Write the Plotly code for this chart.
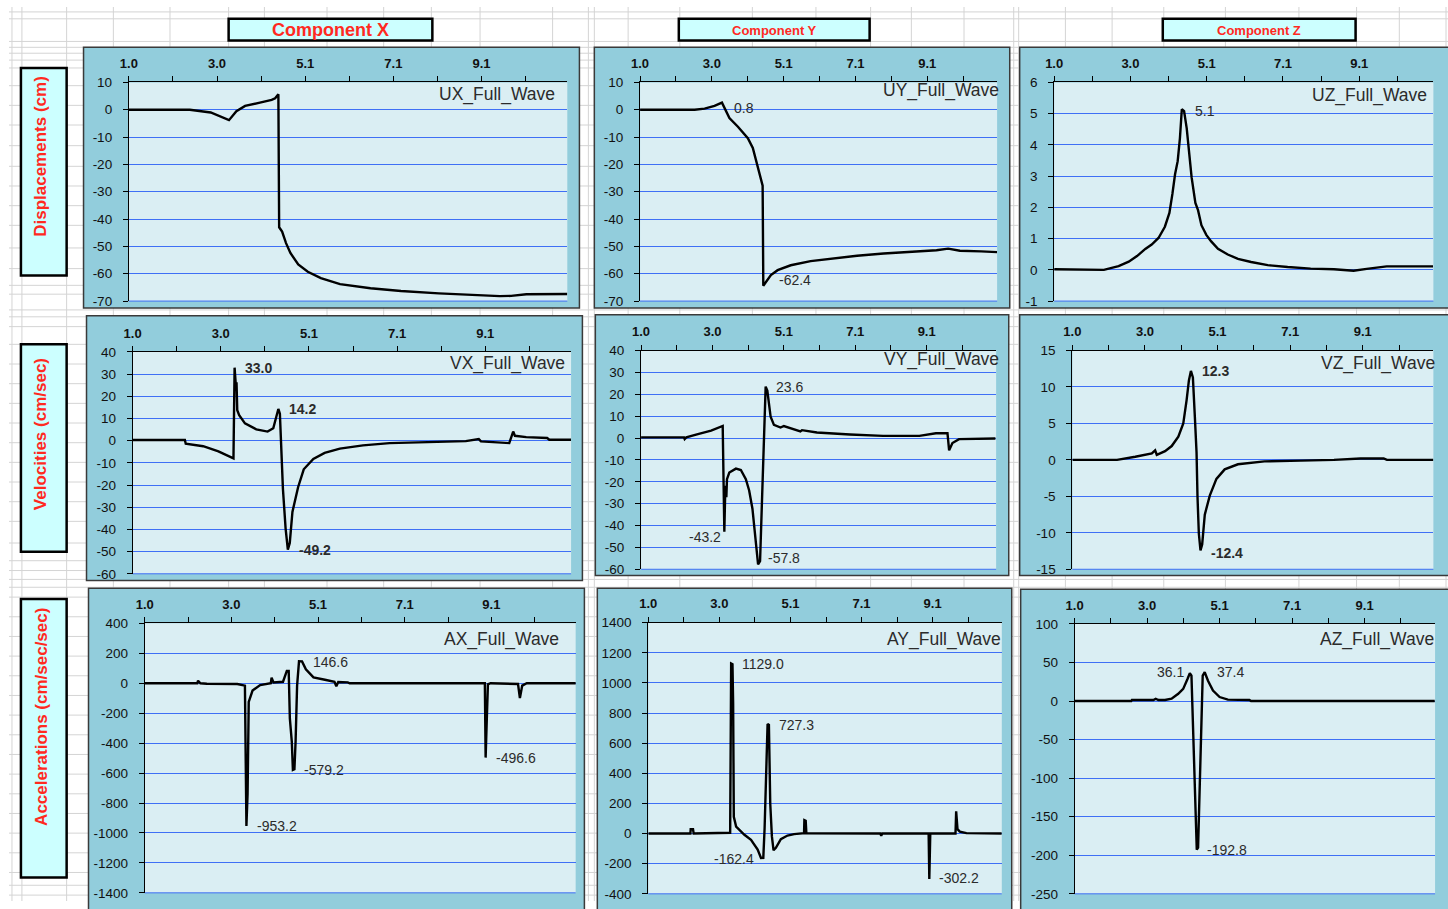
import plotly.graph_objects as go

FIG_W, FIG_H = 1448, 909
FONT = "Liberation Sans, Arial, sans-serif"

# ---------------- data ----------------
x_tick_labels = ["1.0", "", "3.0", "", "5.1", "", "7.1", "", "9.1", ""]
x_tick_step = 1.0125
x_start, x_end = 1.0, 11.07

# Displacements
ux_t = [1.0, 2.40, 2.88, 3.30, 3.47, 3.67, 4.01, 4.28, 4.36, 4.434, 4.452, 4.52, 4.61, 4.71, 4.89, 5.11, 5.41,
        5.85, 6.55, 7.25, 8.12, 8.73, 9.52, 9.78, 10.13, 11.07]
ux_v = [0.0, 0.0, -1.0, -3.8, -0.5, 1.4, 2.6, 3.6, 4.2, 5.7, -43.0, -44.6, -48.8, -52.4, -56.6, -59.3, -61.6,
        -63.8, -65.3, -66.3, -67.2, -67.7, -68.2, -68.1, -67.5, -67.4]

uy_t = [1.0, 2.54, 2.82, 3.10, 3.31, 3.52, 3.76, 4.04, 4.18, 4.32, 4.457, 4.476, 4.55, 4.69, 4.88, 5.25, 5.81,
        6.47, 7.12, 7.87, 8.80, 9.36, 9.69, 10.02, 10.62, 11.07]
uy_v = [0.0, 0.0, 0.4, 1.4, 2.6, -3.0, -6.2, -10.4, -14.0, -21.2, -27.8, -64.4, -63.2, -60.5, -58.7, -56.9, -55.4,
        -54.3, -53.4, -52.6, -51.9, -51.4, -50.8, -51.6, -51.8, -52.1]
uy_lbl = ["0.8", "-62.4"]
uy_lbl_t = [3.94, 5.36]
uy_lbl_v = [0.76, -62.3]

uz_t = [1.0, 2.32, 2.71, 2.98, 3.20, 3.42, 3.59, 3.77, 3.94, 4.06, 4.14, 4.21, 4.28, 4.34, 4.39, 4.45, 4.52,
        4.58, 4.65, 4.75, 4.82, 4.91, 5.04, 5.17, 5.35, 5.61, 5.88, 6.23, 6.67, 7.20, 7.81, 8.43, 8.78, 8.95,
        9.30, 9.83, 11.06]
uz_v = [0.02, 0.0, 0.12, 0.26, 0.44, 0.67, 0.81, 1.02, 1.38, 1.82, 2.43, 3.06, 3.48, 4.22, 5.14, 5.08, 4.53,
        3.90, 2.96, 2.14, 1.91, 1.43, 1.12, 0.91, 0.67, 0.49, 0.35, 0.25, 0.15, 0.09, 0.04, 0.02, -0.01, -0.03,
        0.03, 0.11, 0.11]
uz_lbl = ["5.1"]
uz_lbl_t = [5.0]
uz_lbl_v = [5.08]

# Velocities
vx_t = [1.0, 2.20, 2.22, 2.62, 2.97, 3.18, 3.316, 3.342, 3.368, 3.386, 3.403, 3.447, 3.58, 3.84, 4.10, 4.23,
        4.303, 4.347, 4.382, 4.417, 4.452, 4.513, 4.565, 4.609, 4.670, 4.80, 4.93, 5.15, 5.41, 5.76, 6.29,
        6.90, 7.77, 8.65, 8.95, 9.00, 9.65, 9.74, 9.78, 10.04, 10.52, 10.57, 11.07]
vx_v = [0.3, 0.3, -1.4, -2.5, -4.8, -6.7, -8.0, 32.9, 25.5, 26.3, 13.7, 11.5, 7.8, 5.1, 4.1, 5.6,
        11.5, 14.3, 12.2, -2.5, -21.7, -39.5, -49.1, -46.1, -32.1, -21.0, -12.9, -8.2, -5.5, -3.6, -2.1,
        -1.1, -0.5, -0.2, 0.7, -0.3, -1.1, 4.1, 2.2, 1.6, 1.2, 0.4, 0.4]
vx_lbl = ["33.0", "14.2", "-49.2"]
vx_lbl_t = [3.88, 4.91, 5.18]
vx_lbl_v = [32.9, 14.2, -49.1]

vy_t = [1.0, 2.219, 2.237, 2.284, 2.612, 2.987, 3.316, 3.344, 3.362, 3.391, 3.419, 3.437, 3.503, 3.691, 3.831,
        3.972, 4.066, 4.159, 4.225, 4.272, 4.319, 4.375, 4.412, 4.469, 4.497, 4.534, 4.581, 4.675, 4.769,
        4.956, 5.050, 5.331, 5.519, 5.565, 5.987, 6.925, 7.862, 8.893, 9.362, 9.690, 9.737, 9.831, 10.018,
        11.05]
vy_v = [0.3, 0.3, -0.5, 0.3, 1.8, 3.4, 5.5, -42.8, -42.8, -21.8, -27.0, -18.8, -15.8, -14.0, -14.6,
        -18.8, -24.0, -32.3, -42.8, -51.8, -57.8, -56.3, -36.8, -12.8, 9.7, 23.5, 21.7, 9.7, 6.0,
        4.8, 5.5, 4.0, 3.0, 3.6, 2.5, 1.6, 1.0, 1.0, 2.2, 2.2, -5.6, -2.3, -0.5,
        -0.2]
vy_lbl = ["23.6", "-43.2", "-57.8"]
vy_lbl_t = [5.21, 2.80, 5.05]
vy_lbl_v = [23.5, -45.3, -54.8]

vz_t = [1.0, 2.247, 2.755, 3.217, 3.309, 3.355, 3.586, 3.771, 3.956, 4.094, 4.187, 4.251, 4.307, 4.362, 4.417,
        4.464, 4.491, 4.528, 4.574, 4.621, 4.694, 4.833, 5.018, 5.249, 5.618, 6.357, 7.373, 8.297, 9.036,
        9.682, 9.774, 11.07]
vz_v = [0.0, 0.0, 0.43, 0.88, 1.3, 0.7, 1.2, 1.9, 3.2, 5.0, 8.2, 10.9, 12.2, 11.3, 5.9,
        1.0, -5.1, -10.1, -12.4, -11.6, -7.5, -4.9, -2.6, -1.3, -0.6, -0.2, -0.1, 0.0, 0.2,
        0.2, 0.0, 0.0]
vz_lbl = ["12.3", "-12.4"]
vz_lbl_t = [4.99, 5.31]
vz_lbl_v = [12.2, -12.75]

# Accelerations
ax_t = [1.0, 2.228, 2.246, 2.300, 2.451, 3.163, 3.341, 3.376, 3.403, 3.430, 3.519, 3.697, 3.946, 3.964, 4.008,
        4.231, 4.320, 4.364, 4.391, 4.436, 4.462, 4.498, 4.525, 4.560, 4.605, 4.676, 4.765, 4.943, 5.210,
        5.433, 5.477, 5.522, 5.744, 5.789, 8.948, 8.966, 8.993, 9.020, 9.082, 9.723, 9.767, 9.821, 9.927,
        11.08]
ax_v = [0, 0, 17, 0, -3, -5, -16, -953.2, -739, -125, -49, -12, 0, 38, 5,
        10, 82, 82, -235, -388, -579.2, -574, -388, -16, 146.6, 146, 93, 39, 23,
        10, -20, 8, 6, 0, 0, -496.6, -246, -7, 0, -5, -99, -16, 0,
        0]
ax_lbl = ["146.6", "-579.2", "-953.2", "-496.6"]
ax_lbl_t = [5.34, 5.19, 4.08, 9.68]
ax_lbl_v = [141.6, -576.6, -953.0, -502.0]

ay_t = [1.0, 2.199, 2.208, 2.274, 2.293, 3.332, 3.360, 3.398, 3.417, 3.436, 3.502, 3.596, 3.738, 3.926, 4.021,
        4.115, 4.210, 4.276, 4.313, 4.342, 4.370, 4.398, 4.436, 4.455, 4.474, 4.521, 4.568, 4.634, 4.776,
        4.965, 5.154, 5.437, 5.446, 5.484, 5.503, 7.608, 7.636, 7.665, 8.986, 9.005, 9.033, 9.751, 9.770,
        9.808, 9.874, 10.063, 11.07]
ay_v = [0, 0, 29, 29, 0, 5, 1129.0, 1124, 862, 111, 46, 24, -8, -41, -74,
        -106, -162.4, -161, 35, 307, 612, 727.3, 721, 514, 198, -19, -111, -95, -37,
        -13, -4, 2, 89, 85, 2, 0, -14, 0, 0, -302.2, 0, 0, 148,
        29, 13, 3, 0]
ay_lbl = ["1129.0", "727.3", "-162.4", "-302.2"]
ay_lbl_t = [4.28, 5.22, 3.45, 9.85]
ay_lbl_v = [1123.6, 720.9, -167.0, -295.7]

az_t = [1.0, 2.581, 2.600, 3.201, 3.265, 3.339, 3.524, 3.709, 3.894, 4.033, 4.153, 4.218, 4.264, 4.292, 4.338,
        4.375, 4.412, 4.449, 4.477, 4.514, 4.541, 4.578, 4.634, 4.726, 4.865, 5.050, 5.281, 5.882, 5.928,
        11.06]
az_v = [0, 0, 1.3, 1.3, 3, 1.3, 1.3, 3, 9.4, 15.8, 28.6, 36.1, 33, -11.5, -73.5,
        -145.8, -192.8, -190, -145.8, -99, -35, 33, 37.4, 26.4, 13.7, 5.2, 1.8, 1.3, 0,
        0]
az_lbl = ["36.1", "37.4", "-192.8"]
az_lbl_t = [3.69, 5.35, 5.26]
az_lbl_v = [37.1, 37.1, -193.4]

component_titles = ["Component X", "Component Y", "Component Z"]
row_titles = ["Displacements (cm)", "Velocities (cm/sec)", "Accelerations (cm/sec/sec)"]

# ---------------- layout helpers (page pixel -> paper fraction) ----------------
def px(p):
    return p / FIG_W


def py(p):
    return 1 - p / FIG_H


def clamp(v):
    return min(1.0, max(0.0, v))


RED = "#FF2A1F"
TEAL = "#92CDDC"
PLOT_BG = "#DAEEF3"
GRID_BLUE = "#3F6FF5"
SHEET_GRID = "#D4D4D4"
BOX_FILL = "#CCFFFF"

panels = [
    dict(name="UX_Full_Wave", t=ux_t, v=ux_v, yr=[-70, 10], dt=10, outer=(75, 41, 574, 306),
         plot=(120.6, 76.7, 561.8, 299), leg=(551, 89), lbl=([], [], []), bold=False),
    dict(name="UY_Full_Wave", t=uy_t, v=uy_v, yr=[-70, 10], dt=10, outer=(589, 41, 1007, 306),
         plot=(635, 76.7, 994.3, 299), leg=(998, 85), lbl=(uy_lbl, uy_lbl_t, uy_lbl_v), bold=False),
    dict(name="UZ_Full_Wave", t=uz_t, v=uz_v, yr=[-1, 6], dt=1, outer=(1017, 41, 1460, 306),
         plot=(1051.7, 76.7, 1433.3, 299), leg=(1429, 90), lbl=(uz_lbl, uz_lbl_t, uz_lbl_v), bold=False),
    dict(name="VX_Full_Wave", t=vx_t, v=vx_v, yr=[-60, 40], dt=10, outer=(78, 314, 577, 583),
         plot=(124.4, 350.7, 565.6, 576.3), leg=(561, 362), lbl=(vx_lbl, vx_lbl_t, vx_lbl_v), bold=True),
    dict(name="VY_Full_Wave", t=vy_t, v=vy_v, yr=[-60, 40], dt=10, outer=(590, 313, 1006, 578),
         plot=(636, 349.3, 993.3, 571.7), leg=(998, 358), lbl=(vy_lbl, vy_lbl_t, vy_lbl_v), bold=False),
    dict(name="VZ_Full_Wave", t=vz_t, v=vz_v, yr=[-15, 15], dt=5, outer=(1017, 313, 1460, 578),
         plot=(1070, 349.3, 1433.3, 571.7), leg=(1437, 362), lbl=(vz_lbl, vz_lbl_t, vz_lbl_v), bold=True),
    dict(name="AX_Full_Wave", t=ax_t, v=ax_v, yr=[-1400, 400], dt=200, outer=(80, 591, 579, 925),
         plot=(136.6, 626.7, 570.2, 900.7), leg=(555, 643), lbl=(ax_lbl, ax_lbl_t, ax_lbl_v), bold=False),
    dict(name="AY_Full_Wave", t=ay_t, v=ay_v, yr=[-400, 1400], dt=200, outer=(592, 591, 1009, 925),
         plot=(643.3, 626, 999, 901.7), leg=(1000, 643), lbl=(ay_lbl, ay_lbl_t, ay_lbl_v), bold=False),
    dict(name="AZ_Full_Wave", t=az_t, v=az_v, yr=[-250, 100], dt=50, outer=(1018, 592, 1460, 925),
         plot=(1072.3, 627.3, 1435, 901.7), leg=(1436, 643), lbl=(az_lbl, az_lbl_t, az_lbl_v), bold=False),
]

sheet_cols = [3, 13, 58, 105, 162, 221, 257, 320, 377, 425, 474, 547, 583, 589, 623, 675, 748, 812, 867,
              908, 961, 1011, 1016, 1063, 1110, 1162, 1224, 1298, 1356, 1399, 1446]
sheet_rows = [5, 12, 35, 41, 47, 54, 62, 80, 100, 120, 141, 162, 182, 202, 222, 245, 266, 283, 292, 308,
              315, 325, 343, 363, 383, 403, 423, 443, 463, 483, 503, 523, 545, 563, 573, 582, 590, 600,
              620, 640, 660, 680, 700, 720, 740, 760, 780, 800, 820, 840, 860, 880, 893, 903]

title_boxes = [(221, 12, 426, 34, 18), (674, 12, 866, 34, 13), (1161, 12, 1355, 34, 13)]
row_boxes = [(12, 62, 58, 273, 151.5), (12, 343, 58, 554, 434.5), (12, 602, 58, 885, 722)]

fig = go.Figure()
shapes = []
annotations = []

# Spreadsheet grid
for c in sheet_cols:
    shapes.append(dict(type="line", xref="paper", yref="paper", x0=px(c), x1=px(c), y0=0, y1=1,
                       line=dict(color=SHEET_GRID, width=1), layer="below"))
for r in sheet_rows:
    shapes.append(dict(type="line", xref="paper", yref="paper", x0=0, x1=1, y0=py(r), y1=py(r),
                       line=dict(color=SHEET_GRID, width=1), layer="below"))

# Title boxes
for (x0, y0, x1, y1, fs), txt in zip(title_boxes, component_titles):
    shapes.append(dict(type="rect", xref="paper", yref="paper", x0=px(x0), x1=px(x1), y0=py(y1), y1=py(y0),
                       fillcolor=BOX_FILL, line=dict(color="black", width=2.5), layer="below"))
    annotations.append(dict(text=txt, xref="paper", yref="paper", x=px((x0 + x1) / 2), y=py((y0 + y1) / 2 + 0.5),
                            xanchor="center", yanchor="middle", showarrow=False,
                            font=dict(family=FONT, size=fs, color=RED, weight="bold")))

# Row label boxes
for (x0, y0, x1, y1, cy), txt in zip(row_boxes, row_titles):
    shapes.append(dict(type="rect", xref="paper", yref="paper", x0=px(x0), x1=px(x1), y0=py(y1), y1=py(y0),
                       fillcolor=BOX_FILL, line=dict(color="black", width=2.5), layer="below"))
    annotations.append(dict(text=txt, xref="paper", yref="paper", x=px(32), y=py(cy),
                            xanchor="center", yanchor="middle", showarrow=False, textangle=-90,
                            font=dict(family=FONT, size=17, color=RED, weight="bold")))

tickvals = [x_start + x_tick_step * k for k in range(len(x_tick_labels))]

layout_axes = {}
for i, p in enumerate(panels):
    n = i + 1
    xs = "" if n == 1 else str(n)
    xname, yname = "x" + xs, "y" + xs
    ox0, oy0, ox1, oy1 = p["outer"]
    lx0, ly0, lx1, ly1 = p["plot"]
    y_vals = list(range(p["yr"][0], p["yr"][1] + p["dt"], p["dt"]))
    y_text = [str(v) for v in y_vals]  # plain hyphen minus, as in the spreadsheet

    # chart area
    shapes.append(dict(type="rect", xref="paper", yref="paper", x0=px(ox0), x1=px(ox1), y0=py(oy1), y1=py(oy0),
                       fillcolor=TEAL, line=dict(color="#3A3A3A", width=1.5), layer="below"))
    # plot area
    shapes.append(dict(type="rect", xref=xname + " domain", yref=yname + " domain", x0=0, x1=1, y0=0, y1=1,
                       fillcolor=PLOT_BG, line=dict(width=0), layer="below"))
    shapes.append(dict(type="line", xref=xname + " domain", yref=yname + " domain", x0=0, x1=1, y0=0, y1=0,
                       line=dict(color=GRID_BLUE, width=1), layer="below"))

    layout_axes["xaxis" + xs] = dict(
        domain=[clamp(px(lx0)), clamp(px(lx1))], range=[x_start, x_end], anchor=yname, side="top",
        showline=True, linecolor="black", linewidth=1, ticks="outside", ticklen=5, tickcolor="black",
        tickvals=tickvals, ticktext=x_tick_labels, showgrid=False, zeroline=False, fixedrange=True,
        tickfont=dict(family=FONT, size=13, color="#111111", weight="bold"), ticklabelstandoff=3,
    )
    layout_axes["yaxis" + xs] = dict(
        domain=[clamp(py(ly1)), clamp(py(ly0))], range=p["yr"], tickvals=y_vals, ticktext=y_text,
        anchor=xname,
        showline=True, linecolor="black", linewidth=1, ticks="outside", ticklen=5, tickcolor="black",
        showgrid=True, gridcolor=GRID_BLUE, gridwidth=1, zeroline=False, fixedrange=True,
        tickfont=dict(family=FONT, size=13.5, color="#111111"), ticklabelstandoff=8,
    )

    fig.add_trace(go.Scatter(x=p["t"], y=p["v"], mode="lines", line=dict(color="black", width=2.4),
                             xaxis=xname, yaxis=yname, showlegend=False, hoverinfo="skip"))

    # legend text
    lgx, lgy = p["leg"]
    annotations.append(dict(text=p["name"], xref="paper", yref="paper", x=px(lgx), y=py(lgy),
                            xanchor="right", yanchor="middle", showarrow=False,
                            font=dict(family=FONT, size=17.5, color="#2B2B2B")))
    # peak labels
    texts, lts, lvs = p["lbl"]
    for txt, lt, lv in zip(texts, lts, lvs):
        annotations.append(dict(text=txt, xref=xname, yref=yname, x=lt, y=lv, xanchor="center",
                                yanchor="middle", showarrow=False,
                                font=dict(family=FONT, size=14, color="#2B2B2B",
                                          weight="bold" if p["bold"] else "normal")))

# Size comes from the graph div (pinned to the page's top-left corner), so any body margin is irrelevant.
fig.update_layout(
    autosize=True, margin=dict(l=0, r=0, t=0, b=0),
    paper_bgcolor="white", plot_bgcolor="white",
    shapes=shapes, annotations=annotations, showlegend=False,
    **layout_axes,
)

fig.write_html(
    "out.html",
    default_width=f"{FIG_W}px; position:absolute; left:0px; top:0px",
    default_height=f"{FIG_H}px",
)
